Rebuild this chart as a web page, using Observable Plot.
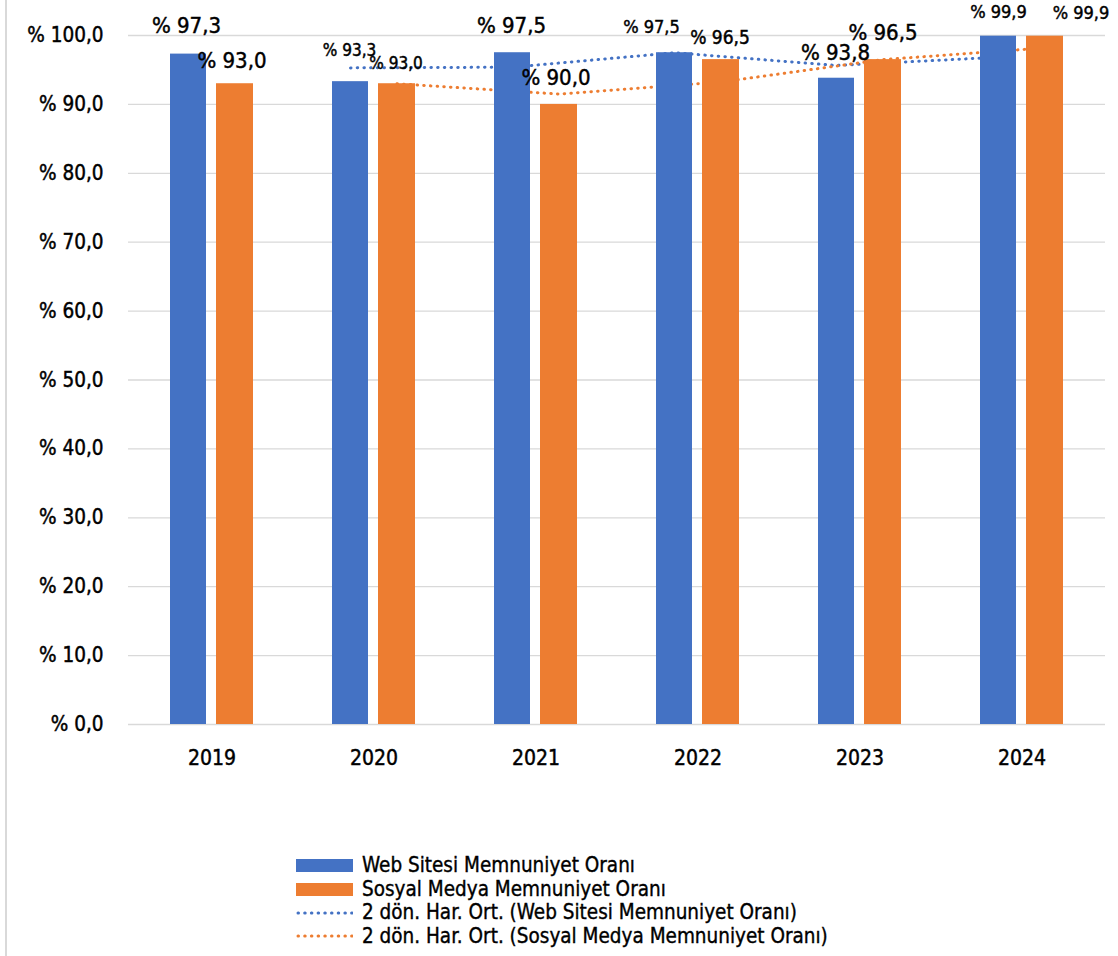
<!DOCTYPE html>
<html>
<head>
<meta charset="utf-8">
<script src="https://cdn.jsdelivr.net/npm/d3@7"></script>
<script src="https://cdn.jsdelivr.net/npm/@observablehq/plot@0.6"></script>
<style>
  html, body { margin: 0; padding: 0; background: #fff; }
  body { width: 1118px; height: 956px; position: relative; overflow: hidden;
         font-family: "DejaVu Sans Condensed", "DejaVu Sans", sans-serif; font-stretch: condensed; }
  #frame { position: absolute; left: 5px; top: 0; width: 2px; height: 956px; background: #d9d9d9; }
  #chart { position: absolute; left: 0; top: 0; }
  #chart svg text { stroke: #000; stroke-width: 0.45px; paint-order: stroke; }
  #legend { position: absolute; left: 296px; top: 854px; font-size: 20.5px; color: #000; line-height: 23.5px;
            -webkit-text-stroke: 0.35px #000; }
  .row { display: flex; align-items: center; height: 23.5px; }
  .sw { width: 57px; height: 13px; margin-right: 9px; }
</style>
</head>
<body>
<div id="frame"></div>
<div id="chart"></div>
<div id="legend"></div>
<script>
// ---- data ----
const years = ["2019", "2020", "2021", "2022", "2023", "2024"];
const webRate = [97.3, 93.3, 97.5, 97.5, 93.8, 99.9];
const socialRate = [93.0, 93.0, 90.0, 96.5, 96.5, 99.9];
// 2-period moving averages as drawn
const webMA = [null, 95.3, 95.4, 97.5, 95.65, 96.85];
const socialMA = [null, 93.0, 91.5, 93.25, 96.5, 98.2];
const yTicks = [0, 10, 20, 30, 40, 50, 60, 70, 80, 90, 100];
const seriesNames = ["Web Sitesi Memnuniyet Oranı", "Sosyal Medya Memnuniyet Oranı"];
const maNames = ["2 dön. Har. Ort. (Web Sitesi Memnuniyet Oranı)", "2 dön. Har. Ort. (Sosyal Medya Memnuniyet Oranı)"];

// label layout (nudges / sizes in px), separate from data
const webLabelLayout = [[-2,-28,22],[-1,-31,17],[-1,-27,22],[-23,-25,18],[-1,-25,22],[0,-24,18]];
const socialLabelLayout = [[-3,-23,22],[-1,-20,17],[-3,-26,22],[-1,-22,19],[0,-27,22],[36,-23,18]];

const BLUE = "#4472C4", ORANGE = "#ED7D31", GRID = "#d9d9d9";
const FONT = '"DejaVu Sans Condensed", "DejaVu Sans", sans-serif';
const DOTS = "0.5 6.2";

const rows = years.map((y, i) => ({year: y, web: webRate[i], social: socialRate[i], webMA: webMA[i], socialMA: socialMA[i]}));
const fmt = v => "% " + v.toFixed(1).replace(".", ",");

const webDx = -23.5, socialDx = 23;

const labelMarks = [];
rows.forEach((r, i) => {
  const [wdx, wdy, wfs] = webLabelLayout[i];
  const [sdx, sdy, sfs] = socialLabelLayout[i];
  labelMarks.push(Plot.text([r], {x: "year", y: "web", text: d => fmt(d.web), dx: webDx + wdx, dy: wdy, fontSize: wfs, fill: "#000", lineAnchor: "middle"}));
  labelMarks.push(Plot.text([r], {x: "year", y: "social", text: d => fmt(d.social), dx: socialDx + sdx, dy: sdy, fontSize: sfs, fill: "#000", lineAnchor: "middle"}));
});

const chart = Plot.plot({
  width: 1118,
  height: 800,
  marginLeft: 128,
  marginRight: 13,
  marginTop: 35,
  marginBottom: 76,
  style: {fontFamily: FONT, fontStretch: "condensed", background: "transparent", overflow: "visible"},
  x: {type: "band", domain: years, paddingInner: 0.49, paddingOuter: 0.245, label: null},
  y: {domain: [0, 100], label: null},
  marks: [
    Plot.ruleY(yTicks, {stroke: GRID, strokeWidth: 1.3}),
    Plot.axisY({ticks: yTicks, tickFormat: fmt, tickSize: 0, tickPadding: 25, fontSize: 20.5, label: null, fill: "#000"}),
    Plot.axisX({tickSize: 0, tickPadding: 26, fontSize: 21, label: null, fill: "#000"}),
    Plot.line(rows.filter(d => d.webMA != null), {x: "year", y: "webMA", dx: webDx, stroke: BLUE, strokeWidth: 3, strokeDasharray: DOTS, strokeLinecap: "round"}),
    Plot.line(rows.filter(d => d.socialMA != null), {x: "year", y: "socialMA", dx: socialDx, stroke: ORANGE, strokeWidth: 3, strokeDasharray: DOTS, strokeLinecap: "round"}),
    Plot.barY(rows, {x: "year", y: "web", fill: BLUE, insetLeft: 0, insetRight: 47}),
    Plot.barY(rows, {x: "year", y: "social", fill: ORANGE, insetLeft: 46, insetRight: 0}),
    ...labelMarks
  ]
});
document.getElementById("chart").appendChild(chart);

// legend
const legend = document.getElementById("legend");
[[seriesNames[0], BLUE, "bar"], [seriesNames[1], ORANGE, "bar"], [maNames[0], BLUE, "line"], [maNames[1], ORANGE, "line"]].forEach(([name, color, kind]) => {
  const row = document.createElement("div");
  row.className = "row";
  if (kind === "bar") {
    const s = document.createElement("div");
    s.className = "sw"; s.style.background = color;
    row.appendChild(s);
  } else {
    const svg = document.createElementNS("http://www.w3.org/2000/svg", "svg");
    svg.setAttribute("width", 57); svg.setAttribute("height", 6);
    svg.style.marginRight = "9px";
    const l = document.createElementNS("http://www.w3.org/2000/svg", "line");
    l.setAttribute("x1", 2); l.setAttribute("x2", 56); l.setAttribute("y1", 3); l.setAttribute("y2", 3);
    l.setAttribute("stroke", color); l.setAttribute("stroke-width", 3); l.setAttribute("stroke-dasharray", DOTS);
    l.setAttribute("stroke-linecap", "round");
    svg.appendChild(l);
    row.appendChild(svg);
  }
  const t = document.createElement("span");
  t.textContent = name;
  row.appendChild(t);
  legend.appendChild(row);
});
</script>
</body>
</html>
